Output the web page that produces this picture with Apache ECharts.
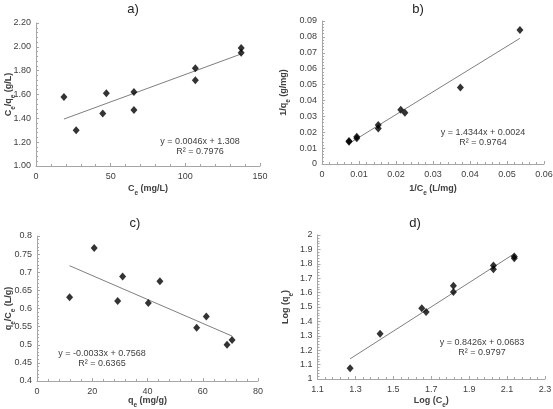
<!DOCTYPE html>
<html>
<head>
<meta charset="utf-8">
<script src="https://cdn.jsdelivr.net/npm/echarts@6/dist/echarts.min.js"></script>
<style>
html,body{margin:0;padding:0;background:#fff;}
#c{width:553px;height:409px;}
</style>
</head>
<body>
<div id="c"></div>
<script>
// Panel a: Ce vs Ce/qe
const aX = [18.7, 26.9, 44.7, 47.1, 65.6, 65.6, 106.7, 106.7, 137.4, 137.4];
const aY = [1.58, 1.30, 1.44, 1.61, 1.47, 1.62, 1.72, 1.82, 1.95, 1.99];
const aTrendX = [18.7, 137.4];
const aTrendY = [1.394, 1.940];
// Panel b: 1/Ce vs 1/qe
const bX = [0.0535, 0.0374, 0.0224, 0.0213, 0.0152, 0.0152, 0.0094, 0.0094, 0.0073, 0.0073];
const bY = [0.0843, 0.0482, 0.0322, 0.0341, 0.0224, 0.0245, 0.0162, 0.0172, 0.0140, 0.0145];
const bTrendX = [0.0073, 0.0535];
const bTrendY = [0.0129, 0.0791];
// Panel c: qe vs qe/Ce
const cX = [11.8, 20.7, 31.0, 29.2, 44.5, 40.3, 61.3, 57.8, 70.6, 68.8];
const cY = [0.631, 0.767, 0.688, 0.621, 0.675, 0.615, 0.578, 0.547, 0.513, 0.500];
const cTrendX = [11.8, 70.6];
const cTrendY = [0.718, 0.524];
// Panel d: Log Ce vs Log qe
const dX = [1.272, 1.430, 1.650, 1.673, 1.817, 1.817, 2.028, 2.028, 2.138, 2.138];
const dY = [1.074, 1.315, 1.491, 1.465, 1.648, 1.604, 1.789, 1.762, 1.850, 1.838];
const dTrendX = [1.272, 2.138];
const dTrendY = [1.140, 1.870];

const titles = ['a)', 'b)', 'c)', 'd)'];
const equations = [
  ['y = 0.0046x + 1.308', 'R² = 0.7976'],
  ['y = 1.4344x + 0.0024', 'R² = 0.9764'],
  ['y = -0.0033x + 0.7568', 'R² = 0.6365'],
  ['y = 0.8426x + 0.0683', 'R² = 0.9797']
];
const xNames = ['{n|C}{s|e}{n| (mg/L)}', '{n|1/C}{s|e}{n| (L/mg)}', '{n|q}{s|e}{n| (mg/g)}', '{n|Log (C}{s|e}{n|)}'];
const yNames = ['{n|C}{s|e}{n|/q}{s|e}{n| (g/L)}', '{n|1/q}{s|e}{n| (g/mg)}', '{n|q}{s|e}{n|/C}{s|e}{n| (L/g)}', '{n|Log (q}{s|e}{n|)}'];
const xRanges = [[0, 150, 50], [0, 0.06, 0.01], [0, 80, 20], [1.1, 2.3, 0.2]];
const yRanges = [[1.0, 2.2, 0.2], [0, 0.09, 0.01], [0.4, 0.8, 0.05], [1, 2, 0.1]];

const FONT = 'Liberation Sans';
const grids = [
  {left: 36, top: 23, width: 224, height: 143, outerBoundsMode: 'none', containLabel: false},
  {left: 322, top: 21, width: 222, height: 143, outerBoundsMode: 'none', containLabel: false},
  {left: 37, top: 236, width: 221, height: 145, outerBoundsMode: 'none', containLabel: false},
  {left: 317.5, top: 235, width: 227.5, height: 144, outerBoundsMode: 'none', containLabel: false}
];
const xNameGaps = [18, 20, 15, 17];
const yNameGaps = [19, 30, 20, 23];
const xFormat = [v => String(Math.round(v)), v => String(+v.toFixed(2)), v => String(Math.round(v)), v => v.toFixed(1)];
const yFormat = [v => v.toFixed(2), v => String(+v.toFixed(2)), v => String(+v.toFixed(2)), v => String(+v.toFixed(1))];

const richName = {
  n: {fontSize: 9, fontWeight: 'bold', fontFamily: FONT, color: '#404040', verticalAlign: 'top', lineHeight: 13},
  s: {fontSize: 6.5, fontWeight: 'bold', fontFamily: FONT, color: '#404040', verticalAlign: 'bottom', lineHeight: 13}
};
const axisLineStyle = {color: '#a6a6a6', width: 1};

function mkX(i) {
  const r = xRanges[i];
  return {
    type: 'value', gridIndex: i, min: r[0], max: r[1], interval: r[2],
    splitLine: {show: false},
    axisLine: {show: true, onZero: false, lineStyle: axisLineStyle},
    axisTick: {show: true, inside: true, length: 3, lineStyle: axisLineStyle},
    minorTick: {show: true, splitNumber: 5, length: 2, lineStyle: axisLineStyle},
    axisLabel: {fontSize: 9, fontFamily: FONT, color: '#404040', margin: 6, formatter: xFormat[i], showMinLabel: true, showMaxLabel: true},
    name: xNames[i], nameLocation: 'middle', nameGap: xNameGaps[i], nameMoveOverlap: false,
    nameTextStyle: {fontSize: 9, fontWeight: 'bold', fontFamily: FONT, color: '#404040', rich: richName}
  };
}
function mkY(i) {
  const r = yRanges[i];
  return {
    type: 'value', gridIndex: i, min: r[0], max: r[1], interval: r[2],
    splitLine: {show: false},
    axisLine: {show: true, onZero: false, lineStyle: axisLineStyle},
    axisTick: {show: true, inside: true, length: 3, lineStyle: axisLineStyle},
    minorTick: {show: true, splitNumber: 5, length: 2, lineStyle: axisLineStyle},
    axisLabel: {fontSize: 9, fontFamily: FONT, color: '#404040', margin: 5, formatter: yFormat[i], showMinLabel: true, showMaxLabel: true},
    name: yNames[i], nameLocation: 'middle', nameGap: yNameGaps[i], nameRotate: 90, nameMoveOverlap: false,
    nameTextStyle: {fontSize: 9, fontWeight: 'bold', fontFamily: FONT, color: '#404040', rich: richName}
  };
}

const xs = [aX, bX, cX, dX], ys = [aY, bY, cY, dY];
const txs = [aTrendX, bTrendX, cTrendX, dTrendX], tys = [aTrendY, bTrendY, cTrendY, dTrendY];
const series = [];
for (let i = 0; i < 4; i++) {
  series.push({
    type: 'line', xAxisIndex: i, yAxisIndex: i, symbol: 'none', silent: true,
    lineStyle: {color: '#7f7f7f', width: 1},
    data: txs[i].map((x, k) => [x, tys[i][k]]), z: 1
  });
  series.push({
    type: 'scatter', xAxisIndex: i, yAxisIndex: i, symbol: 'diamond', symbolSize: [7, 8],
    itemStyle: {color: '#000'},
    data: xs[i].map((x, k) => [x, ys[i][k]]), z: 2
  });
}

const titlePos = [[133, 9], [418, 9], [135, 223], [415, 223]];
const eqPos = [[200, 142], [483, 133], [102, 354], [482, 343]];
const graphic = [];
for (let i = 0; i < 4; i++) {
  graphic.push({type: 'text', x: titlePos[i][0], y: titlePos[i][1],
    style: {text: titles[i], font: '13px ' + FONT, fill: '#222', align: 'center', verticalAlign: 'middle'}});
  graphic.push({type: 'text', x: eqPos[i][0], y: eqPos[i][1],
    style: {text: equations[i][0], font: '9px ' + FONT, fill: '#404040', align: 'center', verticalAlign: 'middle'}});
  graphic.push({type: 'text', x: eqPos[i][0], y: eqPos[i][1] + 10,
    style: {text: equations[i][1], font: '9px ' + FONT, fill: '#404040', align: 'center', verticalAlign: 'middle'}});
}

const chart = echarts.init(document.getElementById('c'), null, {renderer: 'canvas'});
chart.setOption({
  animation: false,
  backgroundColor: '#fff',
  grid: grids,
  xAxis: [0, 1, 2, 3].map(mkX),
  yAxis: [0, 1, 2, 3].map(mkY),
  series: series,
  graphic: graphic
});
</script>
</body>
</html>
